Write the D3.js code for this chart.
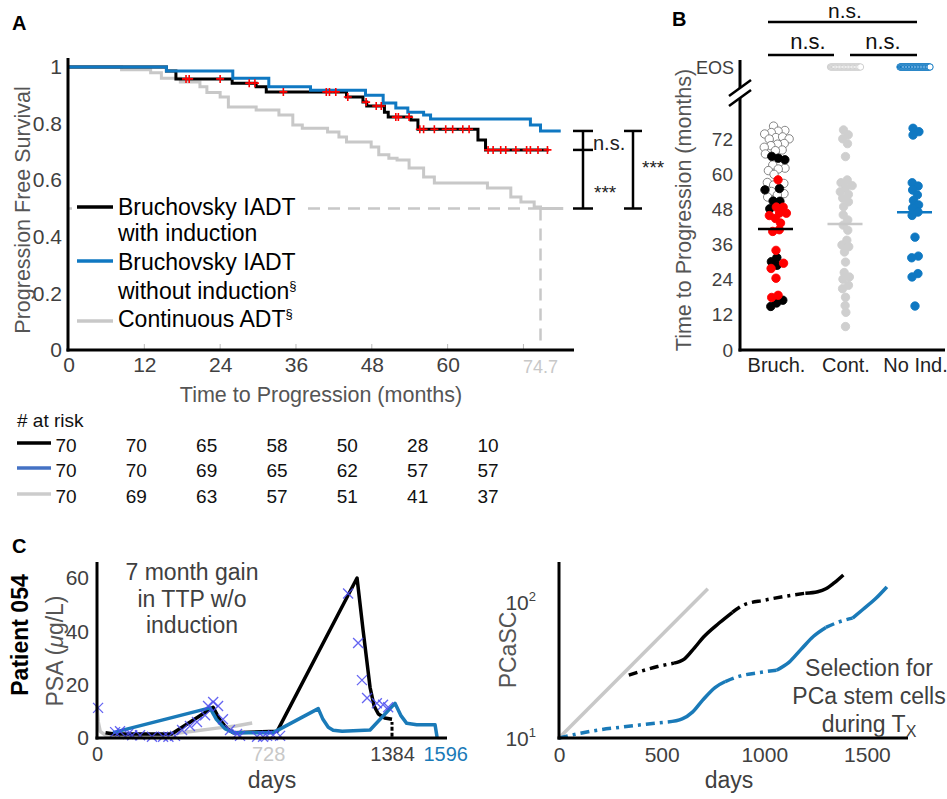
<!doctype html>
<html lang="en">
<head>
<meta charset="utf-8">
<title>IADT figure</title>
<script src="https://cdn.jsdelivr.net/npm/d3@7"></script>
<style>
  body { margin: 0; background: #fff; }
  svg { font-family: "Liberation Sans", Arial, Helvetica, sans-serif; }
  .tick line { display: none; }
  .domain { display: none; }
</style>
</head>
<body>
<svg width="947" height="799"></svg>
<script>
// ---- panel A : Kaplan-Meier curves (months, survival) ----
var blackTimes = [0, 15.5, 17, 25.9, 29.7, 31.3, 44, 46.6, 47.2, 50, 50.6, 54.2, 55.3, 64.8, 66, 76];
var blackSurv  = [1, 0.986, 0.958, 0.943, 0.93, 0.912, 0.894, 0.876, 0.862, 0.84, 0.823, 0.813, 0.78, 0.742, 0.707, 0.707];
var blueTimes  = [0, 15.5, 26, 31.7, 38.3, 47, 49.8, 51.8, 53.7, 56.2, 57.3, 73.1, 74.7, 77.9];
var blueSurv   = [1, 0.986, 0.96, 0.93, 0.918, 0.9, 0.873, 0.855, 0.84, 0.83, 0.816, 0.795, 0.774, 0.774];
var grayTimes  = [0, 8.4, 13, 14.7, 17.7, 20.8, 21.9, 24, 25.3, 29.7, 33.3, 35.5, 37, 41, 42.8, 44, 47.9, 49.1, 50.7, 52, 53.9, 56.2, 57.9, 66.3, 70, 71.6, 73.7, 74.7, 78.3];
var graySurv   = [1, 0.99, 0.98, 0.96, 0.947, 0.93, 0.91, 0.894, 0.859, 0.848, 0.83, 0.795, 0.784, 0.77, 0.753, 0.735, 0.717, 0.69, 0.678, 0.671, 0.643, 0.611, 0.59, 0.572, 0.541, 0.523, 0.505, 0.5, 0.5];
var censorTimes = [18.6, 19.1, 24, 28.6, 29.5, 34, 40.8, 41.3, 42.3, 44.2, 47.1, 48.7, 49.5, 51.8, 52.2, 53.9, 55.6, 56.2, 57.9, 59.7, 60.8, 62.4, 63.4, 66.4, 67.2, 68.4, 69.2, 70.8, 72.5, 73.1, 74.3, 75.8];
var xTicksA = [0, 12, 24, 36, 48, 60];
var yTicksA = [0, 0.2, 0.4, 0.6, 0.8, 1];
var medianCont = 74.7;

// at-risk table
var riskMonths = [0, 12, 24, 36, 48, 60, 72];
var riskBlack = [70, 70, 65, 58, 50, 28, 10];
var riskBlue  = [70, 70, 69, 65, 62, 57, 57];
var riskGray  = [70, 69, 63, 57, 51, 41, 37];

// ---- panel B : time to progression (months) ----
var groupsB = ["Bruch.", "Cont.", "No Ind."];
var bruchOpen  = [75.8, 74.7, 74.4, 74, 73.5, 73, 72.5, 72, 71.5, 71, 70.5, 70, 69, 68.5, 68, 67, 63, 62, 61.5, 61, 60.5, 57, 56.5, 55.5, 54.5, 53.5, 52.5, 52];
var bruchBlack = [66.5, 65.5, 65, 55.5, 54.5, 51, 50.5, 48, 31.5, 30, 29, 17, 16, 15];
var bruchRed   = [58, 49, 48.5, 47.5, 47, 46, 45, 43.5, 41, 40.5, 34, 29.5, 28, 24.5, 18.5, 18];
var contVals   = [75, 73.5, 72, 70.5, 66, 58, 57, 56, 55.5, 54, 53, 52, 50.5, 49, 46, 44.5, 42.5, 41, 37, 36, 35.5, 33.5, 30, 26, 25, 24.5, 22, 21, 18, 15, 13, 8];
var noIndVals  = [75.5, 74.5, 73.5, 57, 56, 54.5, 53, 51, 49.5, 48.5, 47, 46, 38.5, 32, 31.5, 26, 25, 15];
var meansB     = [41.3, 43, 47];
var eosCounts  = [0, 38, 52];
var yTicksB    = [0, 12, 24, 36, 48, 60, 72];

// ---- panel C left : PSA of patient 054 (days, ug/L) ----
var psaBlack = [[40, 2], [80, 1.5], [350, 1.5], [545, 11.5], [575, 7], [610, 3.5], [640, 2], [845, 2.5], [1220, 60], [1249, 40], [1281, 19], [1300, 12], [1320, 9], [1350, 7.5], [1384, 7]];
var psaBlue  = [[75, 2], [530, 11.3], [560, 7], [600, 3.5], [640, 2], [827, 2], [1038, 11], [1060, 7], [1085, 4], [1108, 2.9], [1150, 2.5], [1281, 3], [1398, 13], [1425, 8.5], [1453, 5.5], [1500, 5], [1586, 5], [1596, 0]];
var psaGray  = [[0, 12], [6, 6], [15, 2.5], [40, 1], [300, 1], [450, 2.5], [563, 3.7], [650, 4.5], [728, 5.6]];
var psaMeasured = [[5, 11.3], [85, 2.2], [108, 2.5], [146, 1.5], [165, 1], [202, 1], [258, 0.5], [310, 0.5], [335, 0.5], [366, 0.8], [399, 3], [436, 4.5], [469, 6], [507, 8.5], [521, 12], [545, 13.5], [568, 12], [591, 7], [624, 3], [657, 1.5], [671, 0.8], [751, 0.5], [779, 0.5], [798, 0.8], [826, 1], [859, 0.8], [1178, 54.2], [1225, 35.6], [1243, 21.7], [1267, 15], [1313, 13], [1342, 12.5], [1366, 11.5]];
var yTicksC1 = [0, 20, 40, 60];
var xTicksC1 = [0, 728, 1384, 1596];

// ---- panel C right : PCaSC model (days, cells) ----
var scBlackSolid = [[[560, 35.5], [610, 38], [660, 46], [703, 55], [780, 70], [845, 84]],
                    [[1200, 116], [1260, 119], [1300, 125], [1340, 138], [1385, 158]]];
var scBlackDash  = [[[340, 29], [400, 31], [480, 33.5], [560, 35.5]],
                    [[845, 84], [900, 95], [1000, 103], [1100, 110], [1200, 116]]];
var scBlueSolid  = [[[530, 13.1], [600, 13.8], [650, 15.5], [700, 19], [760, 23.5], [810, 26]],
                    [[1060, 31.5], [1120, 36], [1180, 45], [1240, 56], [1300, 65]],
                    [[1430, 76], [1480, 88], [1540, 105], [1597, 129]]];
var scBlueDash   = [[[0, 10], [100, 10.8], [200, 11.5], [300, 12], [400, 12.5], [530, 13.1]],
                    [[810, 26], [880, 28.5], [960, 30], [1060, 31.5]],
                    [[1300, 65], [1360, 71], [1430, 76]]];
var scGray = [[0, 10], [725, 125]];
var xTicksC2 = [0, 500, 1000, 1500];

var BLUE = "#0f78c2", CBLUE = "#1a7ab8", GRAY = "#c8c8c8", TXT = "#404040";
var svg = d3.select("svg");
svg.append("rect").attr("width", 947).attr("height", 799).attr("fill", "#fff");

function styleTicks(g, size, color) {
  g.selectAll("text").attr("font-size", size).attr("fill", color).attr("font-family", null);
}

// ================= Panel A =================
var xA = d3.scaleLinear().domain([0, 80]).range([68.5, 574]);
var yA = d3.scaleLinear().domain([0, 1]).range([350, 67]);
var A = svg.append("g");
A.append("text").attr("x", 12).attr("y", 30).attr("font-size", 20).attr("font-weight", "bold").text("A");

// little inside ticks on x axis
A.selectAll(".xt").data([12, 24, 36, 48, 60, 72]).enter().append("line")
  .attr("x1", d => xA(d)).attr("x2", d => xA(d)).attr("y1", 350).attr("y2", 344)
  .attr("stroke", "#bbb").attr("stroke-width", 1);

// median dashed lines
A.append("line").attr("x1", 68).attr("x2", xA(medianCont)).attr("y1", yA(0.5)).attr("y2", yA(0.5))
  .attr("stroke", GRAY).attr("stroke-width", 2.5).attr("stroke-dasharray", "12,8");
A.append("line").attr("x1", xA(medianCont)).attr("x2", xA(medianCont)).attr("y1", yA(0.5)).attr("y2", 348)
  .attr("stroke", GRAY).attr("stroke-width", 2.5).attr("stroke-dasharray", "12,8");

var km = d3.line().x(d => xA(d[0])).y(d => yA(d[1])).curve(d3.curveStepAfter);
function zip(t, s) { return t.map((v, i) => [v, s[i]]); }
A.append("path").attr("d", km(zip(grayTimes, graySurv))).attr("fill", "none").attr("stroke", GRAY).attr("stroke-width", 3);
A.append("path").attr("d", km(zip(blackTimes, blackSurv))).attr("fill", "none").attr("stroke", "#000").attr("stroke-width", 3);
A.append("path").attr("d", km(zip(blueTimes, blueSurv))).attr("fill", "none").attr("stroke", BLUE).attr("stroke-width", 3);

var bis = d3.bisector(d => d).right;
function survAt(t) { return blackSurv[Math.max(0, bis(blackTimes, t) - 1)]; }
A.selectAll(".cen").data(censorTimes).enter().append("path")
  .attr("d", d => { var x = xA(d), y = yA(survAt(d)); return "M" + (x - 4) + "," + y + "H" + (x + 4) + "M" + x + "," + (y - 4) + "V" + (y + 4); })
  .attr("stroke", "#f00").attr("stroke-width", 1.6).attr("fill", "none");

// axes
A.append("line").attr("x1", 68).attr("x2", 68).attr("y1", 58).attr("y2", 351.5).attr("stroke", "#000").attr("stroke-width", 3);
A.append("line").attr("x1", 66.5).attr("x2", 574).attr("y1", 350).attr("y2", 350).attr("stroke", "#000").attr("stroke-width", 3);
var ax = A.append("g").attr("transform", "translate(0,350)")
  .call(d3.axisBottom(xA).tickValues(xTicksA).tickSize(0).tickPadding(7));
styleTicks(ax, 21, TXT);
ax.selectAll("text").attr("dy", "0.71em");
A.append("text").attr("x", xA(medianCont)).attr("y", 373).attr("text-anchor", "middle")
  .attr("font-size", 18).attr("fill", GRAY).text("74.7");
var ay = A.append("g").attr("transform", "translate(67,0)")
  .call(d3.axisLeft(yA).tickValues(yTicksA).tickSize(0).tickPadding(5).tickFormat(d => d === 0 || d === 1 ? d : d.toFixed(1)));
styleTicks(ay, 21, TXT);
A.append("text").attr("transform", "translate(30,210) rotate(-90)").attr("text-anchor", "middle")
  .attr("font-size", 21.5).attr("fill", "#555").text("Progression Free Survival");
A.append("text").attr("x", 321).attr("y", 402).attr("text-anchor", "middle")
  .attr("font-size", 21.5).attr("fill", "#555").text("Time to Progression (months)");

// legend
A.append("rect").attr("x", 72).attr("y", 188).attr("width", 233).attr("height", 147).attr("fill", "#fff");
var legend = [
  { c: "#000", y: 207, lines: [["Bruchovsky IADT", 215], ["with induction", 241]] },
  { c: BLUE, y: 261, lines: [["Bruchovsky IADT", 270], ["without induction", 299, "§"]] },
  { c: GRAY, y: 321, lines: [["Continuous ADT", 327, "§"]] }
];
legend.forEach(function (L) {
  A.append("line").attr("x1", 77).attr("x2", 113).attr("y1", L.y).attr("y2", L.y).attr("stroke", L.c).attr("stroke-width", 3.5);
  L.lines.forEach(function (l) {
    var t = A.append("text").attr("x", 118).attr("y", l[1]).attr("font-size", 23).attr("fill", "#000").text(l[0]);
    if (l[2]) t.append("tspan").attr("font-size", 13).attr("dy", -9).text(l[2]);
  });
});

// significance brackets
function bracket(g, x, ys, w) {
  g.append("line").attr("x1", x).attr("x2", x).attr("y1", ys[0]).attr("y2", ys[ys.length - 1]).attr("stroke", "#000").attr("stroke-width", 2.5);
  ys.forEach(y => g.append("line").attr("x1", x - w).attr("x2", x + w).attr("y1", y).attr("y2", y).attr("stroke", "#000").attr("stroke-width", 2.5));
}
bracket(A, 583, [yA(blueSurv[blueSurv.length - 1]), yA(blackSurv[blackSurv.length - 1]), yA(0.5)], 10);
bracket(A, 633, [yA(blueSurv[blueSurv.length - 1]), yA(0.5)], 9);
A.append("text").attr("x", 593).attr("y", 150).attr("font-size", 20).attr("fill", "#222").text("n.s.");
A.append("text").attr("x", 594).attr("y", 199).attr("font-size", 19).attr("fill", "#222").text("***");
A.append("text").attr("x", 642).attr("y", 174).attr("font-size", 19).attr("fill", "#222").text("***");

// at-risk table
var xRisk = d3.scaleLinear().domain([0, 72]).range([66, 488]);
A.append("text").attr("x", 17).attr("y", 427).attr("font-size", 19).attr("fill", "#111").text("# at risk");
[[riskBlack, "#000", 443, 452], [riskBlue, "#4472c4", 468, 477], [riskGray, "#cccccc", 494, 503]].forEach(function (r) {
  A.append("line").attr("x1", 17).attr("x2", 51).attr("y1", r[2]).attr("y2", r[2]).attr("stroke", r[1]).attr("stroke-width", 3.5);
  A.selectAll(null).data(r[0]).enter().append("text")
    .attr("x", (d, i) => xRisk(riskMonths[i])).attr("y", r[3]).attr("text-anchor", "middle")
    .attr("font-size", 19).attr("fill", "#111").text(d => d);
});

// ================= Panel B =================
var B = svg.append("g");
var yB = d3.scaleLinear().domain([0, 72]).range([350, 139]);
var xB = d3.scalePoint().domain(groupsB).range([776, 915]);
var EOSY = 67;
B.append("text").attr("x", 672).attr("y", 26).attr("font-size", 20).attr("font-weight", "bold").text("B");

// significance bars
B.append("line").attr("x1", 768).attr("x2", 917).attr("y1", 22).attr("y2", 22).attr("stroke", "#000").attr("stroke-width", 2.5);
B.append("line").attr("x1", 768).attr("x2", 834).attr("y1", 55).attr("y2", 55).attr("stroke", "#000").attr("stroke-width", 2.5);
B.append("line").attr("x1", 850).attr("x2", 917).attr("y1", 55).attr("y2", 55).attr("stroke", "#000").attr("stroke-width", 2.5);
[[845, 18, 21], [808, 49, 22], [883, 49, 22]].forEach(p => B.append("text").attr("x", p[0]).attr("y", p[1]).attr("text-anchor", "middle")
  .attr("font-size", p[2]).attr("fill", "#111").text("n.s."));

// axes with break
B.append("line").attr("x1", 740).attr("x2", 740).attr("y1", 60).attr("y2", 88).attr("stroke", "#000").attr("stroke-width", 3);
B.append("line").attr("x1", 740).attr("x2", 740).attr("y1", 98).attr("y2", 351.5).attr("stroke", "#000").attr("stroke-width", 3);
B.append("line").attr("x1", 729).attr("x2", 751).attr("y1", 96).attr("y2", 80).attr("stroke", "#000").attr("stroke-width", 2.5);
B.append("line").attr("x1", 729).attr("x2", 751).attr("y1", 106).attr("y2", 90).attr("stroke", "#000").attr("stroke-width", 2.5);
B.append("line").attr("x1", 738.5).attr("x2", 945).attr("y1", 350).attr("y2", 350).attr("stroke", "#000").attr("stroke-width", 3);
var byAx = B.append("g").attr("transform", "translate(739,0)").call(d3.axisLeft(yB).tickValues(yTicksB).tickSize(0).tickPadding(6));
styleTicks(byAx, 19, TXT);
B.append("text").attr("x", 734).attr("y", EOSY + 7).attr("text-anchor", "end").attr("font-size", 18).attr("fill", TXT).text("EOS");
var bxAx = B.append("g").attr("transform", "translate(0,350)").call(d3.axisBottom(xB).tickSize(0).tickPadding(8));
styleTicks(bxAx, 20, "#222");
bxAx.selectAll("text").attr("dy", "0.71em");
B.append("text").attr("transform", "translate(691,210) rotate(-90)").attr("text-anchor", "middle")
  .attr("font-size", 21.5).attr("fill", "#555").text("Time to Progression (months)");

// beeswarm
function swarm(items, cx) {
  var nodes = items.map(d => ({ v: d.v, k: d.k, x: cx + (d.v % 3 - 1), y: yB(d.v) }));
  var sim = d3.forceSimulation(nodes)
    .force("x", d3.forceX(cx).strength(0.12))
    .force("y", d3.forceY(d => yB(d.v)).strength(0.9))
    .force("c", d3.forceCollide(3.4)).stop();
  for (var i = 0; i < 200; i++) sim.tick();
  return nodes;
}
var styleK = {
  open: { fill: "#fff", stroke: "#777" }, black: { fill: "#000", stroke: "#000" }, red: { fill: "#f00", stroke: "#f00" },
  cont: { fill: "#cfcfcf", stroke: "#cfcfcf" }, noind: { fill: BLUE, stroke: BLUE }
};
var bruchItems = bruchOpen.map(v => ({ v: v, k: "open" }))
  .concat(bruchBlack.map(v => ({ v: v, k: "black" })), bruchRed.map(v => ({ v: v, k: "red" })));
var allDots = swarm(bruchItems, xB("Bruch."))
  .concat(swarm(contVals.map(v => ({ v: v, k: "cont" })), xB("Cont.")))
  .concat(swarm(noIndVals.map(v => ({ v: v, k: "noind" })), xB("No Ind.")));
var order = { open: 0, black: 1, red: 2, cont: 0, noind: 0 };
allDots.sort((a, b) => order[a.k] - order[b.k]);
B.selectAll(".dot").data(allDots).enter().append("circle")
  .attr("cx", d => d.x).attr("cy", d => d.y).attr("r", 4.2)
  .attr("fill", d => styleK[d.k].fill).attr("stroke", d => styleK[d.k].stroke).attr("stroke-width", 0.9);

// EOS rows
[[1, "#d0d0d0", "#eeeeee"], [2, BLUE, "#5fa6dc"]].forEach(function (e) {
  var n = eosCounts[e[0]], cx = xB(groupsB[e[0]]);
  var xs = d3.range(n).map(i => cx - 15 + 30 * i / (n - 1));
  B.selectAll(null).data(xs).enter().append("circle").attr("cx", d => d).attr("cy", EOSY).attr("r", 3.2)
    .attr("fill", "#fff").attr("stroke", e[1]).attr("stroke-width", 1);
  B.append("line").attr("x1", cx - 13).attr("x2", cx + 13).attr("y1", EOSY).attr("y2", EOSY)
    .attr("stroke", e[2]).attr("stroke-width", 2).attr("stroke-dasharray", "2,1");
});

// mean lines
["#000", GRAY, BLUE].forEach(function (c, i) {
  var cx = xB(groupsB[i]);
  B.append("line").attr("x1", cx - 18).attr("x2", cx + 17).attr("y1", yB(meansB[i])).attr("y2", yB(meansB[i]))
    .attr("stroke", c).attr("stroke-width", 2.5);
});

// ================= Panel C left =================
var C = svg.append("g");
C.append("text").attr("x", 12).attr("y", 553).attr("font-size", 20).attr("font-weight", "bold").text("C");
var xC1 = d3.scaleLinear().domain([0, 1642]).range([97, 447]);
var yC1 = d3.scaleLinear().domain([0, 66]).range([738, 562]);
var psaLine = d3.line().x(d => xC1(d[0])).y(d => yC1(d[1]));
C.append("path").attr("d", psaLine(psaGray)).attr("fill", "none").attr("stroke", GRAY).attr("stroke-width", 3.5).attr("stroke-linejoin", "round");
C.append("path").attr("d", psaLine(psaBlack)).attr("fill", "none").attr("stroke", "#000").attr("stroke-width", 3.5).attr("stroke-linejoin", "round");
C.append("path").attr("d", psaLine(psaBlue)).attr("fill", "none").attr("stroke", CBLUE).attr("stroke-width", 3.5).attr("stroke-linejoin", "round");
C.append("line").attr("x1", xC1(1384)).attr("x2", xC1(1384)).attr("y1", yC1(0.5)).attr("y2", yC1(6))
  .attr("stroke", "#000").attr("stroke-width", 3).attr("stroke-dasharray", "4,2");
C.selectAll(".mx").data(psaMeasured).enter().append("path")
  .attr("d", d => { var x = xC1(d[0]), y = yC1(d[1]); return "M" + (x - 5) + "," + (y - 5) + "L" + (x + 5) + "," + (y + 5) + "M" + (x - 5) + "," + (y + 5) + "L" + (x + 5) + "," + (y - 5); })
  .attr("stroke", "#4a4af0").attr("stroke-width", 1.3).attr("fill", "none").attr("opacity", 0.85);
C.append("line").attr("x1", 97).attr("x2", 97).attr("y1", 562).attr("y2", 739.5).attr("stroke", "#000").attr("stroke-width", 3);
C.append("line").attr("x1", 95.5).attr("x2", 447).attr("y1", 738).attr("y2", 738).attr("stroke", "#000").attr("stroke-width", 3);
var c1y = C.append("g").attr("transform", "translate(96,0)").call(d3.axisLeft(yC1).tickValues(yTicksC1).tickSize(0).tickPadding(7));
styleTicks(c1y, 21, TXT);
var c1x = C.append("g").attr("transform", "translate(0,738)")
  .call(d3.axisBottom(xC1).tickValues(xTicksC1).tickSize(0).tickPadding(9).tickFormat(d3.format("d")));
styleTicks(c1x, 20, TXT);
c1x.selectAll("text").attr("dy", "0.71em")
  .attr("fill", d => d === 728 ? GRAY : d === 1596 ? CBLUE : TXT)
  .attr("dx", d => d === 728 ? 16 : d === 1596 ? 8 : 0);
C.append("text").attr("x", 272).attr("y", 788).attr("text-anchor", "middle").attr("font-size", 23).attr("fill", TXT).text("days");
var psaT = C.append("text").attr("transform", "translate(63,651) rotate(-90)").attr("text-anchor", "middle")
  .attr("font-size", 23).attr("fill", "#555").text("PSA (");
psaT.append("tspan").attr("font-style", "italic").text("\u03bc");
psaT.append("tspan").text("g/L)");
C.append("text").attr("transform", "translate(28,635) rotate(-90)").attr("text-anchor", "middle")
  .attr("font-size", 23).attr("font-weight", "bold").attr("fill", "#000").text("Patient 054");
[["7 month gain", 580], ["in TTP w/o", 607], ["induction", 633]].forEach(l =>
  C.append("text").attr("x", 192).attr("y", l[1]).attr("text-anchor", "middle").attr("font-size", 23).attr("fill", TXT).text(l[0]));

// ================= Panel C right =================
var xC2 = d3.scaleLinear().domain([0, 1700]).range([559, 908]);
var yC2 = d3.scaleLog().domain([10, 200]).range([738, 561]);
var scLine = d3.line().x(d => xC2(d[0])).y(d => yC2(d[1])).curve(d3.curveMonotoneX);
C.append("path").attr("d", scLine(scGray)).attr("fill", "none").attr("stroke", GRAY).attr("stroke-width", 3.5);
scBlackDash.forEach(s => C.append("path").attr("d", scLine(s)).attr("fill", "none").attr("stroke", "#000")
  .attr("stroke-width", 3.5).attr("stroke-dasharray", "9,5,3,5"));
scBlackSolid.forEach(s => C.append("path").attr("d", scLine(s)).attr("fill", "none").attr("stroke", "#000").attr("stroke-width", 3.5));
scBlueDash.forEach(s => C.append("path").attr("d", scLine(s)).attr("fill", "none").attr("stroke", CBLUE)
  .attr("stroke-width", 3.5).attr("stroke-dasharray", "9,5,3,5"));
scBlueSolid.forEach(s => C.append("path").attr("d", scLine(s)).attr("fill", "none").attr("stroke", CBLUE).attr("stroke-width", 3.5));
C.append("line").attr("x1", 559).attr("x2", 559).attr("y1", 562).attr("y2", 739.5).attr("stroke", "#000").attr("stroke-width", 3);
C.append("line").attr("x1", 557.5).attr("x2", 908).attr("y1", 738).attr("y2", 738).attr("stroke", "#000").attr("stroke-width", 3);
var c2x = C.append("g").attr("transform", "translate(0,738)")
  .call(d3.axisBottom(xC2).tickValues(xTicksC2).tickSize(0).tickPadding(9).tickFormat(d3.format("d")));
styleTicks(c2x, 21, TXT);
c2x.selectAll("text").attr("dy", "0.71em");
[10, 100].forEach(function (v) {
  var t = C.append("text").attr("x", 536).attr("y", yC2(v) + 8).attr("text-anchor", "end").attr("font-size", 21).attr("fill", TXT).text("10");
  t.append("tspan").attr("font-size", 13).attr("dy", -9).text(Math.round(Math.log10(v)));
});
C.append("text").attr("x", 729).attr("y", 788).attr("text-anchor", "middle").attr("font-size", 23).attr("fill", TXT).text("days");
C.append("text").attr("transform", "translate(516,650) rotate(-90)").attr("text-anchor", "middle")
  .attr("font-size", 23).attr("fill", "#555").text("PCaSC");
[["Selection for", 676], ["PCa stem cells", 704]].forEach(l =>
  C.append("text").attr("x", 869).attr("y", l[1]).attr("text-anchor", "middle").attr("font-size", 23).attr("fill", TXT).text(l[0]));
var dT = C.append("text").attr("x", 869).attr("y", 732).attr("text-anchor", "middle").attr("font-size", 23).attr("fill", TXT).text("during T");
dT.append("tspan").attr("font-size", 16).attr("dy", 5).text("X");
</script>
</body>
</html>
